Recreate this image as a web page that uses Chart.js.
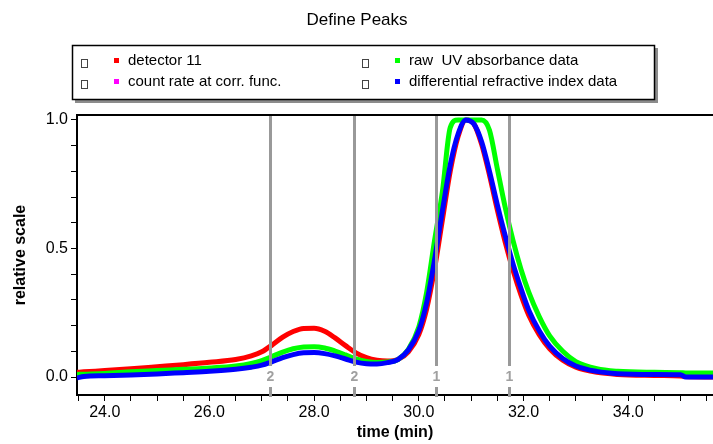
<!DOCTYPE html>
<html><head><meta charset="utf-8">
<script src="https://cdn.jsdelivr.net/npm/chart.js@4.4.0/dist/chart.umd.min.js"></script>
<style>html,body{margin:0;padding:0;background:#fff;overflow:hidden;}#wrap{width:713px;height:444px;position:relative;}</style>
</head><body><div id="wrap"><canvas id="c" width="713" height="444"></canvas></div>
<script>
// ---- data ----
const chartTitle = 'Define Peaks';
const seriesNames = ['detector 11', 'count rate at corr. func.', 'raw  UV absorbance data', 'differential refractive index data'];
const times = [23.47, 23.6, 24.0, 24.5, 25.0, 25.5, 26.0, 26.5, 26.8, 27.0, 27.2, 27.4, 27.6, 27.8, 28.0, 28.2, 28.4, 28.6, 28.8, 29.0, 29.2, 29.4, 29.6, 29.8, 30.0, 30.15, 30.3, 30.45, 30.6, 30.75, 30.9, 31.05, 31.2, 31.35, 31.5, 31.65, 31.8, 31.95, 32.1, 32.3, 32.5, 32.75, 33.0, 33.4, 33.8, 34.5, 35.0, 35.1, 35.62];
const detector11 = [0.018, 0.020, 0.025, 0.032, 0.040, 0.048, 0.057, 0.068, 0.082, 0.098, 0.125, 0.155, 0.177, 0.189, 0.190, 0.178, 0.152, 0.122, 0.094, 0.075, 0.065, 0.062, 0.068, 0.098, 0.165, 0.265, 0.42, 0.61, 0.80, 0.935, 1.0, 0.985, 0.905, 0.785, 0.65, 0.525, 0.415, 0.32, 0.24, 0.165, 0.11, 0.065, 0.038, 0.018, 0.010, 0.006, 0.004, 0.002, 0.0];
const countRate = [];
const rawUV = [0.010, 0.011, 0.014, 0.020, 0.025, 0.030, 0.035, 0.043, 0.053, 0.064, 0.080, 0.097, 0.110, 0.117, 0.118, 0.113, 0.101, 0.086, 0.070, 0.060, 0.056, 0.058, 0.068, 0.108, 0.195, 0.33, 0.53, 0.72, 0.97, 1.0, 1.0, 1.0, 1.0, 0.96, 0.81, 0.66, 0.53, 0.42, 0.33, 0.235, 0.16, 0.10, 0.06, 0.032, 0.022, 0.018, 0.017, 0.016, 0.016];
const diffRI = [-0.004, 0.002, 0.005, 0.008, 0.012, 0.017, 0.022, 0.030, 0.038, 0.046, 0.060, 0.075, 0.087, 0.094, 0.095, 0.091, 0.082, 0.070, 0.058, 0.052, 0.051, 0.056, 0.068, 0.105, 0.180, 0.29, 0.455, 0.645, 0.825, 0.945, 1.0, 0.985, 0.915, 0.80, 0.67, 0.55, 0.44, 0.345, 0.26, 0.18, 0.12, 0.072, 0.043, 0.022, 0.013, 0.010, 0.009, 0.0, 0.0];
const peakTimes = [27.15, 28.76, 30.32, 31.72];
const peakLabels = ['2', '2', '1', '1'];
const xLabelValues = [24, 26, 28, 30, 32, 34];
const yLabelValues = [0, 0.5, 1.0];

const colors = ['#ff0000', '#ff00ff', '#00ff00', '#0000ff'];
const seriesValues = [detector11, countRate, rawUV, diffRI];
const drawOrder = [3, 2, 1, 0];

const datasets = seriesNames.map((name, i) => ({
  label: name,
  data: seriesValues[i].map((v, k) => ({x: times[k], y: v})),
  borderColor: colors[i],
  backgroundColor: colors[i],
  borderWidth: 5,
  pointRadius: 0,
  fill: false,
  cubicInterpolationMode: 'monotone',
  order: drawOrder[i]
}));

const decorPlugin = {
  id: 'decor',
  beforeDraw(chart) {
    const ctx = chart.ctx;
    ctx.save();
    ctx.fillStyle = '#fff';
    ctx.fillRect(0, 0, chart.width, chart.height);
    // title
    ctx.fillStyle = '#000';
    ctx.font = '17px Arial, "Liberation Sans", sans-serif';
    ctx.textAlign = 'center';
    ctx.textBaseline = 'middle';
    ctx.fillText(chartTitle, 357, 20);
    // legend box with shadow
    ctx.fillStyle = '#8c8c8c';
    ctx.fillRect(75, 48, 583, 55);
    ctx.fillStyle = '#fff';
    ctx.fillRect(72, 45, 583, 55);
    ctx.strokeStyle = '#000';
    ctx.lineWidth = 1.5;
    ctx.strokeRect(72.5, 45.5, 582, 54);
    const pos = [[84, 61], [84, 82], [365, 61], [365, 82]];
    ctx.font = '15px Arial, "Liberation Sans", sans-serif';
    ctx.textAlign = 'left';
    chart.data.datasets.forEach((ds, i) => {
      const [bx, by] = pos[i];
      ctx.strokeStyle = '#444';
      ctx.lineWidth = 1;
      ctx.strokeRect(bx - 2.5, by - 1.5, 6, 8);
      const sx = bx + 32;
      ctx.fillStyle = ds.borderColor;
      ctx.fillRect(sx - 2, by - 3, 5, 5);
      ctx.fillStyle = '#000';
      ctx.fillText(ds.label, sx + 12, by);
    });
    ctx.restore();
  },
  afterDatasetsDraw(chart) {
    const ctx = chart.ctx;
    const xs = chart.scales.x;
    const area = chart.chartArea;
    ctx.save();
    // top frame line
    ctx.strokeStyle = '#000';
    ctx.lineWidth = 2;
    ctx.beginPath();
    ctx.moveTo(area.left, area.top);
    ctx.lineTo(chart.width, area.top);
    ctx.stroke();
    peakTimes.forEach((t, i) => {
      const px = Math.round(xs.getPixelForValue(t)) + 0.5;
      ctx.strokeStyle = '#999999';
      ctx.lineWidth = 3;
      ctx.beginPath();
      ctx.moveTo(px, area.top + 1);
      ctx.lineTo(px, area.bottom - 29);
      ctx.stroke();
      ctx.beginPath();
      ctx.moveTo(px, area.bottom - 8);
      ctx.lineTo(px, area.bottom + 2);
      ctx.stroke();
      ctx.fillStyle = '#a0a0a0';
      ctx.font = 'bold 14px Arial, "Liberation Sans", sans-serif';
      ctx.textAlign = 'center';
      ctx.textBaseline = 'middle';
      ctx.fillText(peakLabels[i], px, area.bottom - 18);
    });
    ctx.restore();
  }
};

const near = (v, list) => list.some(l => Math.abs(v - l) < 1e-6);

new Chart(document.getElementById('c'), {
  type: 'line',
  data: { datasets },
  options: {
    responsive: false,
    animation: false,
    layout: { padding: { top: 115, left: 0, right: 0, bottom: 0 } },
    plugins: { legend: { display: false }, tooltip: { enabled: false }, title: { display: false } },
    scales: {
      x: {
        type: 'linear',
        min: 23.47, max: 35.62,
        afterFit(s) { s.height = 49; },
        border: { display: true, color: '#000', width: 2 },
        grid: { drawOnChartArea: false, drawTicks: true, tickLength: 6, color: '#000', lineWidth: 1 },
        ticks: {
          stepSize: 0.5, includeBounds: false, autoSkip: false, maxRotation: 0, padding: 2,
          color: '#000', font: { family: 'Arial, "Liberation Sans", sans-serif', size: 16 },
          callback: v => near(v, xLabelValues) ? v.toFixed(1) : ''
        },
        title: { display: true, text: 'time (min)', color: '#000', padding: { top: 2, bottom: 2 },
          font: { family: 'Arial, "Liberation Sans", sans-serif', size: 16, weight: 'bold' } }
      },
      y: {
        min: -0.07, max: 1.019,
        afterFit(s) { s.width = 77; },
        border: { display: true, color: '#000', width: 2 },
        grid: { drawOnChartArea: false, drawTicks: true, tickLength: 6, color: '#000', lineWidth: 1 },
        ticks: {
          stepSize: 0.1, includeBounds: false, autoSkip: false, padding: 3,
          color: '#000', font: { family: 'Arial, "Liberation Sans", sans-serif', size: 16 },
          callback: v => near(v, yLabelValues) ? v.toFixed(1) : ''
        },
        title: { display: true, text: 'relative scale', color: '#000', padding: { top: 11, bottom: 11 },
          font: { family: 'Arial, "Liberation Sans", sans-serif', size: 16, weight: 'bold' } }
      }
    }
  },
  plugins: [decorPlugin]
});
</script></body></html>
